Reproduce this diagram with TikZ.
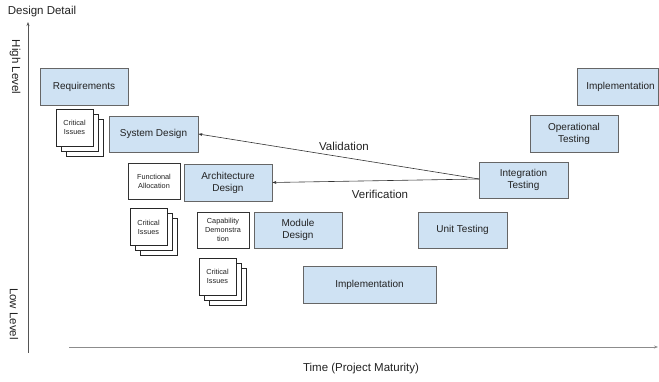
\documentclass[tikz,border=0pt]{standalone}
\usepackage{fontspec}
\setmainfont{Liberation Sans}
\usetikzlibrary{arrows.meta}
\definecolor{boxfill}{HTML}{CFE2F3}
\definecolor{boxline}{HTML}{666666}
\definecolor{txt}{HTML}{222222}
\definecolor{axisline}{HTML}{555555}
\tikzset{
  bluebox/.style={draw=boxline, fill=boxfill, line width=0.9pt, inner sep=0pt,
    text=txt, align=center, font=\fontsize{10}{12}\selectfont},
  whitebox/.style={draw=black!80, fill=white, line width=0.6pt, inner sep=0pt,
    minimum width=52pt, minimum height=36pt, text=txt, align=center,
    font=\fontsize{7.3}{9}\selectfont},
  page/.style={draw=black!85, fill=white, line width=0.7pt, inner sep=0pt,
    minimum width=37pt, minimum height=37pt, text=txt, align=center,
    font=\fontsize{7.3}{9}\selectfont},
  axislabel/.style={text=txt, font=\fontsize{11.5}{13}\selectfont},
  flow/.style={draw=black!80, line width=0.6pt, -{Stealth[length=4pt,width=3pt]}},
  axis/.style={draw=axisline, line width=0.8pt, -{Stealth[length=4pt,width=3pt]}},
}
\begin{document}
\begin{tikzpicture}[x=1pt, y=-1pt]
\useasboundingbox (0,0) rectangle (659,382);

% axes
\coordinate (yb) at (28,352.5);
\coordinate (yt) at (28,22);
\coordinate (xl) at (69,347);
\coordinate (xr) at (658,347);
\draw[axis] (yb) -- (yt);
\draw[axis, draw=black!45] (xl) -- (xr);
\node[axislabel] (dd) at (42,12) {Design Detail};
\node[axislabel] (tm) at (361,369) {Time (Project Maturity)};
\node[axislabel, rotate=-90] (hl) at (15,67) {High Level};
\node[axislabel, rotate=-90] (ll) at (14,314) {Low Level};

% blue boxes
\node[bluebox, minimum width=88pt, minimum height=37pt] (req) at (84,86.5) {Requirements};
\node[bluebox, minimum width=89pt, minimum height=36pt] (sys) at (153.5,134) {System Design};
\node[bluebox, minimum width=88pt, minimum height=37pt] (arch) at (228,182.5) {Architecture\\Design};
\node[bluebox, minimum width=88pt, minimum height=36pt] (mod) at (298,230) {Module\\Design};
\node[bluebox, minimum width=133pt, minimum height=37pt] (impl) at (369.5,284.5) {Implementation};
\node[bluebox, minimum width=89pt, minimum height=36pt] (unit) at (462.5,230) {Unit Testing};
\node[bluebox, minimum width=89pt, minimum height=36pt] (integ) at (523.5,180) {Integration\\Testing};
\node[bluebox, minimum width=88pt, minimum height=37pt] (oper) at (574,133.5) {Operational\\Testing};
\node[bluebox, minimum width=81pt, minimum height=37pt] (impl2) at (617.5,86.5) {\hspace*{6pt}Implementation};

% white boxes
\node[whitebox] (func) at (154,181) {Functional\\Allocation};
\node[whitebox] (cap) at (223,230) {Capability\\Demonstra\\tion};

% page stacks
\node[page] (c1c) at (84.5,137.5) {};
\node[page] (c1b) at (79.5,132.5) {};
\node[page] (c1a) at (74.5,127.5) {Critical\\Issues};
\node[page] (c2c) at (158.5,237) {};
\node[page] (c2b) at (153.5,232) {};
\node[page] (c2a) at (148.5,227) {Critical\\Issues};
\node[page] (c3c) at (227.5,286.5) {};
\node[page] (c3b) at (222.5,281.5) {};
\node[page] (c3a) at (217.5,276.5) {Critical\\Issues};

% validation / verification
\coordinate (vs) at (479,179);
\draw[flow] (vs) -- (sys.east);
\draw[flow] (vs) -- (arch.east);
\node[axislabel] (val) at (344,146) {Validation};
\node[axislabel] (ver) at (380,194) {Verification};
\end{tikzpicture}
\end{document}
